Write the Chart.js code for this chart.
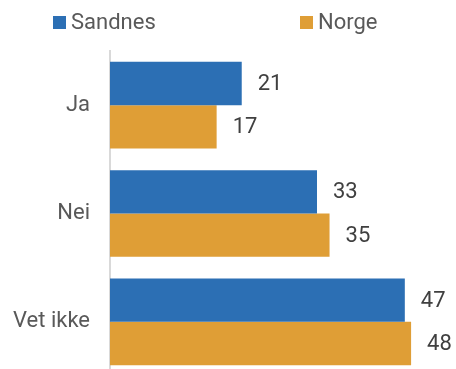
<!DOCTYPE html>
<html>
<head>
<meta charset="utf-8">
<script src="https://cdn.jsdelivr.net/npm/chart.js@4/dist/chart.umd.min.js"></script>
<style>
  html, body { margin: 0; padding: 0; background: #fff; overflow: hidden; }
  #wrap { width: 456px; height: 369px; overflow: hidden; }
  #box { position: relative; width: 456px; height: 376px; }
</style>
</head>
<body>
<div id="wrap"><div id="box"><canvas id="myChart"></canvas></div></div>
<script>
const categories = ['Ja', 'Nei', 'Vet ikke'];
const seriesNames = ['Sandnes', 'Norge'];
const sandnes = [21, 33, 47];
const norge = [17, 35, 48];
const colors = ['#2c6fb4', '#df9e36'];

// legend is drawn by hand, the items are spread wide in the original
const legendPlugin = {
    id: 'legendPlugin',
    afterDraw(chart) {
        const ctx = chart.ctx;
        const spots = [53, 300];
        ctx.save();
        ctx.font = '22px Roboto';
        ctx.textBaseline = 'middle';
        ctx.textAlign = 'left';
        chart.data.datasets.forEach(function (ds, i) {
            ctx.fillStyle = ds.backgroundColor;
            ctx.fillRect(spots[i], 16, 13, 13);
            ctx.fillStyle = '#595959';
            ctx.fillText(ds.label, spots[i] + 18, 23);
        });
        ctx.restore();
    }
};

// value labels right of each bar
const valueLabels = {
    id: 'valueLabels',
    afterDatasetsDraw(chart) {
        const ctx = chart.ctx;
        ctx.save();
        ctx.font = '22px Roboto';
        ctx.fillStyle = '#404040';
        ctx.textBaseline = 'middle';
        ctx.textAlign = 'left';
        chart.data.datasets.forEach(function (ds, i) {
            chart.getDatasetMeta(i).data.forEach(function (bar, j) {
                ctx.fillText(ds.data[j], bar.x + 16, bar.y + 1);
            });
        });
        ctx.restore();
    }
};

new Chart(document.getElementById('myChart'), {
    type: 'bar',
    data: {
        labels: categories,
        datasets: [
            { label: seriesNames[0], data: sandnes, backgroundColor: colors[0] },
            { label: seriesNames[1], data: norge, backgroundColor: colors[1] }
        ]
    },
    options: {
        indexAxis: 'y',
        responsive: true,
        maintainAspectRatio: false,
        animation: false,
        categoryPercentage: 0.8,
        barPercentage: 1,
        layout: { padding: { top: 51, right: 1, bottom: 0, left: 0 } },
        plugins: {
            legend: { display: false },
            tooltip: { enabled: false }
        },
        scales: {
            x: {
                display: false,
                min: 0,
                max: 55
            },
            y: {
                grid: { display: false, drawTicks: false },
                border: { display: true, color: '#d9d9d9', width: 2 },
                ticks: {
                    color: '#595959',
                    font: { family: 'Roboto', size: 22 },
                    padding: 20
                },
                afterFit(scale) {
                    // labels sit inside their bands, no extra room needed
                    scale.width = 110;
                    scale.paddingTop = 0;
                    scale.paddingBottom = 0;
                }
            }
        }
    },
    plugins: [valueLabels, legendPlugin]
});
</script>
</body>
</html>
